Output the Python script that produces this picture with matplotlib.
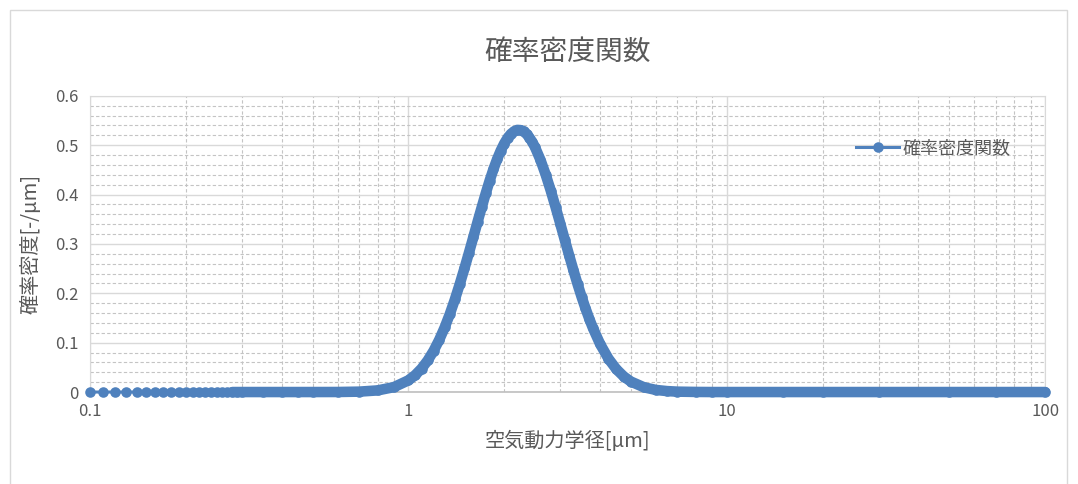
import numpy as np
import matplotlib.pyplot as plt
from matplotlib.patches import Rectangle
from matplotlib.ticker import FixedLocator, LogLocator, MultipleLocator, NullFormatter

plt.rcParams['font.family'] = ['Noto Sans CJK JP', 'DejaVu Sans']

# 空気動力学径 [um] と 確率密度 [-/um]
x_um = [0.10, 0.11, 0.12, 0.13, 0.14, 0.15, 0.16, 0.17, 0.18, 0.19,
        0.20, 0.21, 0.22, 0.23, 0.24, 0.25, 0.26, 0.27, 0.28, 0.29,
        0.30, 0.35, 0.40, 0.45, 0.50, 0.60, 0.70, 0.80, 0.90,
        1.00, 1.05, 1.10, 1.15, 1.20, 1.25, 1.30, 1.35, 1.40, 1.45,
        1.50, 1.55, 1.60, 1.65, 1.70, 1.75, 1.80, 1.85, 1.90, 1.95,
        2.00, 2.05, 2.10, 2.15, 2.20, 2.25, 2.30, 2.35, 2.40, 2.45,
        2.50, 2.60, 2.70, 2.80, 2.90, 3.00, 3.10, 3.20, 3.30, 3.40,
        3.50, 3.60, 3.70, 3.80, 4.00, 4.25, 4.50, 4.75, 5.00, 5.50,
        6.00, 6.50, 7.00, 8.00, 9.00, 10.0, 15.0, 20.0, 30.0, 50.0,
        70.0, 100.0]
pdf = [0, 0, 0, 0, 0, 0, 0, 0, 0, 0,
       0, 0, 0, 0, 0, 0, 0, 0, 0, 0,
       0, 0, 0, 0, 0, 0.0001, 0.0008, 0.0033, 0.0099,
       0.0237, 0.0342, 0.0476, 0.0640, 0.0834, 0.1058, 0.1308, 0.1582, 0.1877, 0.2187,
       0.2504, 0.2824, 0.3141, 0.3452, 0.3746, 0.4025, 0.4283, 0.4514, 0.4717, 0.4890,
       0.5034, 0.5148, 0.5230, 0.5283, 0.5310, 0.5305, 0.5278, 0.5227, 0.5155, 0.5064,
       0.4957, 0.4700, 0.4403, 0.4080, 0.3746, 0.3410, 0.3079, 0.2764, 0.2464, 0.2185,
       0.1928, 0.1695, 0.1484, 0.1294, 0.0975, 0.0676, 0.0463, 0.0314, 0.0212, 0.0095,
       0.0042, 0.0019, 0.0008, 0.0002, 0, 0, 0, 0, 0, 0,
       0, 0]
x_ticks = [0.1, 1, 10, 100]
y_ticks = [0, 0.1, 0.2, 0.3, 0.4, 0.5, 0.6]

blue = '#4f81bd'
text_c = '#595959'

fig = plt.figure(figsize=(10.78, 4.84), dpi=100)
ax = fig.add_axes([0.0835, 0.19, 0.886, 0.612])

x = np.array(x_um)
y = np.array(pdf)
dense = x >= 0.28
# 密集したマーカー部分は太線で表現
ax.plot(x[dense], y[dense], color=blue, lw=7.6, solid_capstyle='round',
        solid_joinstyle='round', zorder=3, clip_on=False)
ax.plot(x, y, color=blue, lw=2.2, marker='o', ms=7.6, mec=blue, mew=0, mfc=blue,
        label='確率密度関数', zorder=4, clip_on=False)

ax.set_xscale('log')
ax.set_xlim(0.1, 100)
ax.set_ylim(0, 0.6)
ax.xaxis.set_major_locator(FixedLocator(x_ticks))
ax.set_xticklabels(['0.1', '1', '10', '100'])
ax.xaxis.set_minor_locator(LogLocator(base=10, subs=np.arange(2, 10)))
ax.xaxis.set_minor_formatter(NullFormatter())
ax.yaxis.set_major_locator(FixedLocator(y_ticks))
ax.yaxis.set_minor_locator(MultipleLocator(0.02))
ax.set_yticklabels(['0', '0.1', '0.2', '0.3', '0.4', '0.5', '0.6'])

ax.grid(which='major', color='#d9d9d9', lw=1.0, ls='-')
ax.grid(which='minor', color='#c4c4c4', lw=0.8, ls=(0, (3, 2)))
ax.set_axisbelow(True)
ax.tick_params(which='both', length=0, labelsize=12, labelcolor=text_c, pad=8)
for s in ['top', 'right', 'left']:
    ax.spines[s].set_color('#d9d9d9')
ax.spines['bottom'].set_color('#bfbfbf')
ax.spines['bottom'].set_linewidth(1.2)

ax.set_title('確率密度関数', fontsize=20, color=text_c, pad=26)
ax.set_xlabel('空気動力学径[μm]', fontsize=14.5, color=text_c, labelpad=8)
ax.set_ylabel('確率密度[-/μm]', fontsize=14.5, color=text_c, labelpad=10)

leg = ax.legend(loc='center left', bbox_to_anchor=(0.785, 0.824), frameon=False,
                fontsize=13, handlelength=2.4, handletextpad=0.2, labelcolor=text_c)

fig.patches.append(Rectangle((10 / 1078, -0.01), 1057 / 1078, 1 - 10 / 484 + 0.01,
                             transform=fig.transFigure, fill=False,
                             ec='#d9d9d9', lw=1.0))

fig.savefig('out.png', dpi=100)
